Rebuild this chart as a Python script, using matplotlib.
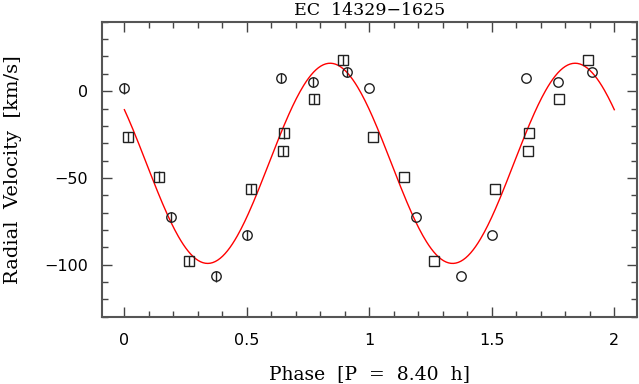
import numpy as np
import matplotlib

matplotlib.use("Agg")
import matplotlib.pyplot as plt
from matplotlib.ticker import MultipleLocator

# measured radial velocities (two observing sets)
circle_phase = [0.000, 0.190, 0.376, 0.502, 0.640, 0.771, 0.908]
circle_rv = [1.6, -72.4, -106.8, -83.0, 7.5, 5.2, 10.9]
circle_err = [3.0, 3.0, 3.0, 3.0, 3.0, 3.0, 3.0]

square_phase = [0.013, 0.140, 0.262, 0.515, 0.650, 0.647, 0.773, 0.891]
square_rv = [-26.3, -49.2, -97.9, -56.5, -24.4, -34.6, -4.4, 17.9]
square_err = [3.0, 3.0, 3.0, 3.0, 3.0, 3.0, 3.0, 3.0]

# sine fit parameters
gamma = -41.6
K = 57.7
phase_max = 0.840

serif = "DejaVu Serif"

fig = plt.figure(figsize=(6.39, 3.84), dpi=100)
ax = fig.add_axes([0.159, 0.1753, 0.838, 0.768])

# fitted curve
ph = np.linspace(0, 2, 400)
ax.plot(ph, gamma + K * np.cos(2 * np.pi * (ph - phase_max)), color="red", lw=1.0, zorder=2)

edge = "#222222"
mk = dict(ms=6.8, mfc="none", mec=edge, mew=1.0, ls="none", zorder=3)

# first cycle with error bars
ax.errorbar(circle_phase, circle_rv, yerr=circle_err, fmt="o", ecolor=edge, elinewidth=1.0, capsize=0, **mk)
ax.errorbar(square_phase, square_rv, yerr=square_err, fmt="s", ecolor=edge, elinewidth=1.0, capsize=0, **mk)
# repeated cycle
ax.plot(np.array(circle_phase) + 1, circle_rv, marker="o", **mk)
ax.plot(np.array(square_phase) + 1, square_rv, marker="s", **mk)

ax.set_xlim(-0.093, 2.093)
ax.set_ylim(-130, 40)
ax.xaxis.set_major_locator(MultipleLocator(0.5))
ax.xaxis.set_minor_locator(MultipleLocator(0.1))
ax.yaxis.set_major_locator(MultipleLocator(50))
ax.yaxis.set_minor_locator(MultipleLocator(10))
ax.set_xticks([0, 0.5, 1, 1.5, 2])
ax.set_xticklabels(["0", "0.5", "1", "1.5", "2"])

ax.tick_params(which="both", direction="in", top=True, right=True, colors="#444444", labelcolor="black", labelsize=11.5)
ax.tick_params(which="major", length=7.5, width=1.0)
ax.tick_params(axis="x", which="major", pad=12)
ax.tick_params(axis="y", which="major", pad=10)
ax.tick_params(which="minor", length=4.5, width=1.0)
for s in ax.spines.values():
    s.set_linewidth(1.5)
    s.set_color("#555555")

ax.set_title("EC  14329\u22121625", fontfamily=serif, fontsize=12.5, pad=5)
ax.set_xlabel("Phase  [P  =  8.40  h]", fontfamily=serif, fontsize=13.5, labelpad=12)
ax.set_ylabel("Radial  Velocity  [km/s]", fontfamily=serif, fontsize=14, labelpad=16)

plt.savefig("out.png", dpi=100)
